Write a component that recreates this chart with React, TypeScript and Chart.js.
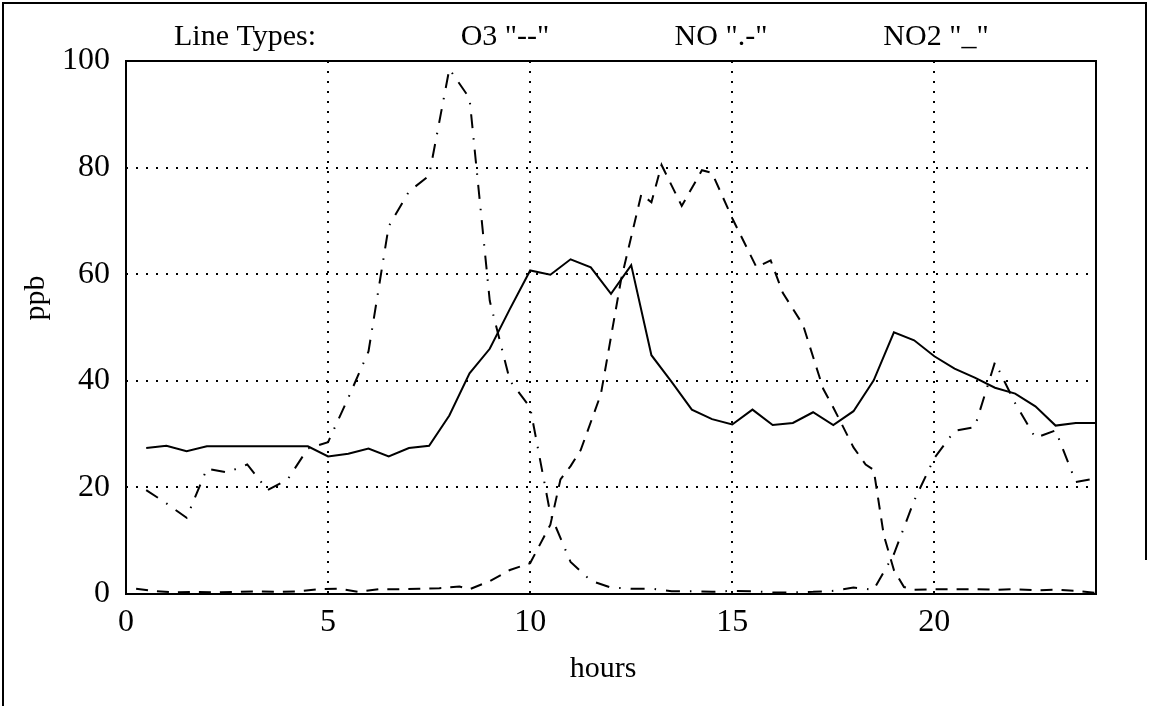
import React, { useEffect, useRef } from "react";
import { Chart, registerables } from "chart.js";

Chart.register(...registerables);

// ---- data ----
const HOURS = [
  0.5, 1, 1.5, 2, 2.5, 3, 3.5, 4, 4.5, 5, 5.5, 6, 6.5, 7, 7.5, 8,
  8.5, 9, 9.5, 10, 10.5, 11, 11.5, 12, 12.5, 13, 13.5, 14, 14.5, 15, 15.5, 16,
  16.5, 17, 17.5, 18, 18.5, 19, 19.5, 20, 20.5, 21, 21.5, 22, 22.5, 23, 23.5, 24,
];

const NO2_VALUES = [
  27.4, 27.8, 26.8, 27.7, 27.7, 27.7, 27.7, 27.7, 27.7, 25.8, 26.3, 27.3, 25.8, 27.4, 27.8, 33.5,
  41.4, 46.0, 53.5, 60.7, 59.9, 62.8, 61.3, 56.3, 61.7, 44.8, 39.8, 34.6, 32.8, 31.8, 34.6, 31.7,
  32.1, 34.1, 31.7, 34.3, 40.1, 49.1, 47.6, 44.6, 42.3, 40.6, 38.7, 37.6, 35.2, 31.6, 32.1, 32.1,
];

const NO_VALUES = [
  19.5, 17.0, 14.3, 23.5, 22.8, 24.3, 19.5, 21.5, 27.3, 28.5, 36.8, 45.5, 69.0, 75.5, 78.5, 98.5,
  93.0, 55.0, 40.0, 35.0, 15.0, 6.0, 2.5, 1.2, 1.0, 1.0, 0.5, 0.5, 0.4, 0.6, 0.5, 0.3,
  0.3, 0.4, 0.6, 1.2, 0.8, 7.5, 17.5, 25.5, 30.6, 31.3, 43.5, 35.8, 29.3, 30.7, 21.0, 21.7,
];

const O3_HOURS = [
  0.25, 0.75, 1.25, 1.75, 2.25, 2.75, 3.25, 3.75, 4.25, 4.75, 5.25, 5.75, 6.25, 6.75, 7.25, 7.75,
  8.25, 8.5, 9, 9.5, 10, 10.5, 10.75, 11, 11.25, 11.75, 12.25, 12.75, 13, 13.25, 13.75, 14.25,
  14.5, 15, 15.6, 15.95, 16.25, 16.75, 17.25, 17.5, 18, 18.3, 18.5, 18.75, 19, 19.25, 19.5, 20,
  20.5, 21, 21.5, 22, 22.5, 23, 23.5, 24,
];

const O3_VALUES = [
  1.0, 0.5, 0.3, 0.4, 0.3, 0.4, 0.5, 0.4, 0.5, 0.9, 1.0, 0.4, 0.9, 0.9, 1.0, 1.1,
  1.4, 0.9, 2.4, 4.5, 5.8, 13.0, 21.5, 24.0, 27.0, 37.5, 59.0, 75.0, 73.5, 80.5, 72.8, 79.5,
  79.0, 70.5, 61.3, 62.6, 56.5, 50.5, 38.5, 35.0, 27.5, 24.3, 23.3, 11.0, 4.5, 1.3, 0.8, 0.9,
  0.9, 0.9, 0.8, 0.9, 0.7, 0.8, 0.6, 0.2,
];

const X_TICKS = [0, 5, 10, 15, 20];
const Y_TICKS = [0, 20, 40, 60, 80, 100];
const HEADER_LABELS = ["Line Types:", 'O3 "--"', 'NO ".-"', 'NO2 "_"'];
const X_TITLE = "hours";
const Y_TITLE = "ppb";

// ---- layout / style (not data) ----
const W = 1149;
const H = 706;
const FONT = "'Liberation Serif', 'Times New Roman', serif";
const HEADER_X = [245, 505, 721, 936];

const decorPlugin = {
  id: "decor",
  beforeDatasetsDraw(chart: any) {
    const { ctx, chartArea: a, scales } = chart;
    const xs = scales.x;
    const ys = scales.y;
    ctx.save();
    ctx.strokeStyle = "#000";
    ctx.lineWidth = 2;
    ctx.setLineDash([2, 8]);
    for (const t of X_TICKS) {
      if (t <= 0 || t >= 24) continue;
      const px = Math.round(xs.getPixelForValue(t));
      ctx.beginPath();
      ctx.moveTo(px, a.top);
      ctx.lineTo(px, a.bottom);
      ctx.stroke();
    }
    for (const t of Y_TICKS) {
      if (t <= 0 || t >= 100) continue;
      const py = Math.round(ys.getPixelForValue(t));
      ctx.beginPath();
      ctx.moveTo(a.left, py);
      ctx.lineTo(a.right, py);
      ctx.stroke();
    }
    ctx.restore();
  },
  afterDraw(chart: any) {
    const { ctx, chartArea: a } = chart;
    ctx.save();
    ctx.strokeStyle = "#000";
    ctx.setLineDash([]);
    // plot frame
    ctx.lineWidth = 2;
    ctx.strokeRect(a.left, a.top, a.right - a.left, a.bottom - a.top);
    // outer page frame (top, left, right)
    ctx.lineWidth = 2;
    ctx.beginPath();
    ctx.moveTo(3, H);
    ctx.lineTo(3, 3);
    ctx.lineTo(1146, 3);
    ctx.lineTo(1146, 560);
    ctx.stroke();

    ctx.fillStyle = "#000";
    ctx.font = `30px ${FONT}`;
    ctx.textAlign = "center";
    ctx.textBaseline = "alphabetic";
    HEADER_LABELS.forEach((s, i) => ctx.fillText(s, HEADER_X[i], 45));

    ctx.fillText(X_TITLE, 603, 677);

    ctx.translate(44, 298);
    ctx.rotate(-Math.PI / 2);
    ctx.fillText(Y_TITLE, 0, 0);
    ctx.restore();
  },
};

export default function App() {
  const ref = useRef<HTMLCanvasElement | null>(null);

  useEffect(() => {
    document.body.style.margin = "0";
    const canvas = ref.current;
    if (!canvas) return;
    const mk = (xs: number[], ys: number[]) => xs.map((x, i) => ({ x, y: ys[i] }));
    const chart = new Chart(canvas, {
      type: "line",
      data: {
        datasets: [
          {
            label: "O3",
            data: mk(O3_HOURS, O3_VALUES),
            borderColor: "#000",
            borderWidth: 2,
            borderDash: [12, 9],
            pointRadius: 0,
            tension: 0,
            fill: false,
          },
          {
            label: "NO",
            data: mk(HOURS, NO_VALUES),
            borderColor: "#000",
            borderWidth: 2,
            borderDash: [14, 10, 1.5, 10],
            pointRadius: 0,
            tension: 0,
            fill: false,
          },
          {
            label: "NO2",
            data: mk(HOURS, NO2_VALUES),
            borderColor: "#000",
            borderWidth: 2,
            pointRadius: 0,
            tension: 0,
            fill: false,
          },
        ],
      },
      options: {
        responsive: false,
        animation: false,
        devicePixelRatio: 1,
        layout: { padding: { left: 0, right: W - 1096, top: 61, bottom: 0 } },
        plugins: {
          legend: { display: false },
          tooltip: { enabled: false },
          title: { display: false },
        },
        scales: {
          x: {
            type: "linear",
            min: 0,
            max: 24,
            grid: { display: false },
            border: { display: false },
            afterBuildTicks: (s: any) => {
              s.ticks = X_TICKS.map((v) => ({ value: v }));
            },
            afterFit: (s: any) => {
              s.height = H - 594;
            },
            ticks: {
              color: "#000",
              font: { family: FONT, size: 32 },
              padding: 1,
              maxRotation: 0,
              autoSkip: false,
            },
          },
          y: {
            type: "linear",
            min: 0,
            max: 100,
            grid: { display: false },
            border: { display: false },
            afterBuildTicks: (s: any) => {
              s.ticks = Y_TICKS.map((v) => ({ value: v }));
            },
            afterFit: (s: any) => {
              s.width = 126;
            },
            ticks: {
              color: "#000",
              font: { family: FONT, size: 32 },
              padding: 8,
              autoSkip: false,
            },
          },
        },
      },
      plugins: [decorPlugin],
    } as any);
    return () => chart.destroy();
  }, []);

  return (
    <div style={{ width: W, height: H, background: "#fff" }}>
      <canvas ref={ref} width={W} height={H} style={{ display: "block" }} />
    </div>
  );
}
